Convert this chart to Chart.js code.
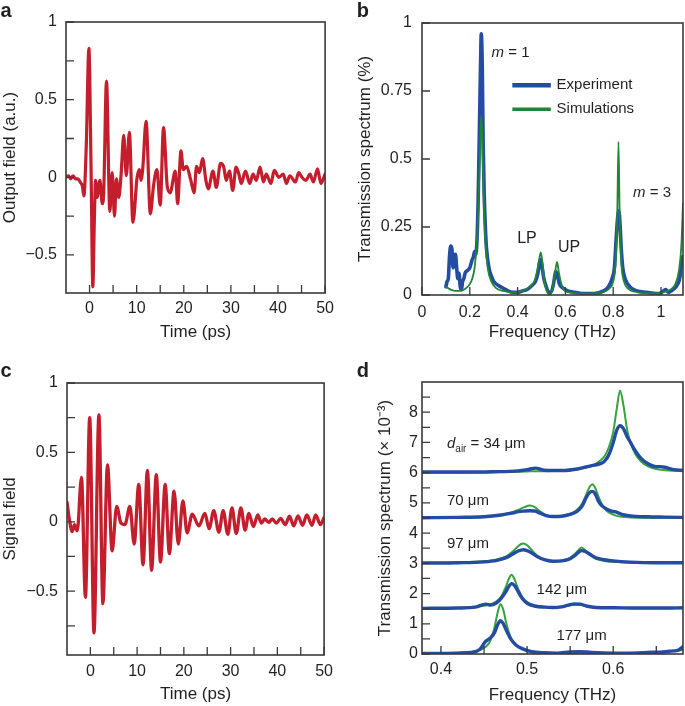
<!DOCTYPE html>
<html><head><meta charset="utf-8">
<script src="https://cdn.jsdelivr.net/npm/chart.js@4.4.1/dist/chart.umd.min.js"></script>
<style>
html,body{margin:0;padding:0;background:#fff;}
body{width:685px;height:706px;position:relative;overflow:hidden;}
canvas{position:absolute;}
</style></head><body>
<canvas id="ca" style="left:0;top:0" width="340" height="345"></canvas>
<canvas id="cb" style="left:340px;top:0" width="345" height="345"></canvas>
<canvas id="cc" style="left:0;top:340px" width="340" height="366"></canvas>
<canvas id="cd" style="left:340px;top:340px" width="345" height="366"></canvas>
<script>
// ---------- Panel a: output field vs time ----------
const timeA = [-5,-4.5,-4,-3.5,-3,-2.5,-2,-1.5,-1.2,-0.7,-0.14,0.3,0.7,1.0,1.27,1.6,2.2,2.7,3.0,3.6,4.3,4.8,5.3,5.7,6.2,6.7,7.25,7.8,8.45,9.2,10.1,10.6,10.9,11.3,12.0,12.9,13.6,14.3,15.0,15.7,16.5,17.1,18.2,18.7,19.4,19.9,20.6,21.5,22.2,22.7,23.3,24.0,24.7,25.2,26.2,26.9,27.8,28.5,29.0,29.7,30.4,31.1,31.7,32.2,33.1,34.0,34.7,35.4,36.2,36.9,37.5,38.5,39.2,40.2,41.1,41.8,42.5,43.7,44.4,45.1,45.9,46.8,47.5,48.4,49.1,50];
const fieldA = [0.0,0.01,-0.01,0.01,-0.01,-0.01,-0.03,-0.06,-0.12,0.2,0.83,0.1,-0.705,-0.3,-0.02,-0.13,-0.02,-0.17,-0.1,0.62,-0.22,0.03,-0.25,-0.01,-0.13,0.02,0.27,0.01,0.29,-0.29,0.0,0.05,-0.02,0.06,0.36,-0.235,-0.05,0.05,-0.18,0.32,-0.06,-0.1,0.04,-0.17,0.17,0.05,0.07,-0.02,-0.1,0.07,0.03,0.12,-0.02,-0.075,0.04,-0.065,0.09,0.065,-0.02,0.04,-0.085,0.065,0.02,-0.04,0.04,-0.04,0.02,-0.02,0.065,-0.03,0.02,-0.04,0.045,0.0,0.02,-0.04,0.01,-0.03,0.03,0.0,-0.02,0.02,-0.03,0.055,-0.04,0.02];
const timeTicks = [0,5,10,15,20,25,30,35,40,45,50];
const timeTickLabels = ['0','','10','','20','','30','','40','','50'];
const fieldTicksA = [-0.5,-0.25,0,0.25,0.5,0.75,1];
const fieldTickLabelsA = ['\u22120.5','','0','','0.5','','1'];

// ---------- Panel c: signal field vs time ----------
const timeC = [-5,-4.5,-3.9,-3.4,-2.8,-1.9,-1.06,-0.14,0.77,1.83,2.68,3.66,4.65,5.63,6.55,7.4,8.45,9.37,10.35,11.27,12.2,13.1,14.1,15.0,16.0,16.9,17.9,18.8,19.8,20.7,21.8,23.2,24.5,25.4,26.4,27.5,28.4,29.4,30.3,31.2,32.2,33.1,33.9,34.9,35.8,36.6,37.3,38.2,38.9,39.8,40.7,41.7,42.6,43.5,44.4,45.4,46.3,47.4,48.2,49.2,50];
const fieldC = [0.14,0.02,-0.07,-0.02,-0.065,0.32,-0.545,0.75,-0.80,0.77,-0.59,0.41,-0.21,0.11,-0.01,-0.02,0.11,-0.16,0.27,-0.31,0.37,-0.35,0.34,-0.29,0.27,-0.23,0.22,-0.16,0.15,-0.08,0.055,-0.03,0.06,-0.05,0.08,-0.075,0.08,-0.09,0.1,-0.085,0.1,-0.06,0.06,-0.035,0.05,-0.01,0.02,-0.005,0.02,-0.01,0.025,-0.02,0.04,-0.03,0.043,-0.025,0.05,-0.025,0.05,-0.02,0.03];
const fieldTicksC = [-0.75,-0.5,-0.25,0,0.25,0.5,0.75,1];
const fieldTickLabelsC = ['','\u22120.5','','0','','0.5','','1'];

// ---------- Panel b: transmission spectrum ----------
const freqExpB = [0.1,0.105,0.11,0.115,0.12,0.125,0.13,0.135,0.14,0.145,0.15,0.155,0.16,0.165,0.17,0.175,0.18,0.19,0.2,0.21,0.215,0.22,0.225,0.23,0.235,0.24,0.245,0.248,0.252,0.256,0.26,0.265,0.27,0.28,0.29,0.3,0.32,0.34,0.36,0.38,0.4,0.42,0.44,0.46,0.475,0.485,0.492,0.497,0.503,0.51,0.52,0.53,0.54,0.55,0.56,0.567,0.575,0.59,0.61,0.64,0.68,0.72,0.76,0.78,0.795,0.805,0.812,0.818,0.823,0.828,0.833,0.84,0.85,0.87,0.9,0.94,0.98,1.0,1.02,1.03,1.05,1.07,1.08,1.085,1.09];
const transExpB = [0.03,0.05,0.06,0.14,0.18,0.17,0.10,0.14,0.15,0.10,0.06,0.08,0.03,0.02,0.05,0.06,0.08,0.09,0.10,0.13,0.14,0.16,0.15,0.20,0.35,0.60,0.85,0.96,0.85,0.55,0.38,0.25,0.17,0.10,0.07,0.05,0.035,0.025,0.015,0.01,0.01,0.015,0.02,0.035,0.05,0.08,0.12,0.13,0.10,0.06,0.03,0.01,0.01,0.04,0.086,0.07,0.04,0.025,0.015,0.01,0.005,0.005,0.015,0.03,0.06,0.10,0.20,0.28,0.31,0.27,0.18,0.10,0.06,0.03,0.015,0.01,0.005,0.008,0.02,0.01,0.02,0.04,0.07,0.12,0.14];
const freqSimB = [0.1,0.12,0.14,0.16,0.18,0.2,0.21,0.22,0.23,0.237,0.243,0.248,0.253,0.258,0.265,0.275,0.29,0.31,0.34,0.38,0.42,0.45,0.47,0.482,0.49,0.497,0.504,0.512,0.522,0.535,0.545,0.555,0.565,0.573,0.585,0.6,0.63,0.67,0.72,0.76,0.785,0.8,0.81,0.817,0.822,0.827,0.834,0.845,0.86,0.89,0.94,1.0,1.04,1.06,1.075,1.085,1.092];
const transSimB = [0.03,0.02,0.015,0.015,0.022,0.04,0.06,0.10,0.2,0.35,0.55,0.66,0.56,0.36,0.2,0.1,0.05,0.025,0.015,0.01,0.015,0.03,0.05,0.09,0.13,0.157,0.12,0.05,0.015,0.0,0.02,0.07,0.122,0.08,0.035,0.015,0.008,0.005,0.006,0.012,0.025,0.05,0.12,0.3,0.563,0.3,0.12,0.05,0.025,0.012,0.006,0.008,0.02,0.04,0.09,0.18,0.337];
const freqTicksB = [0,0.2,0.4,0.6,0.8,1];
const freqTickLabelsB = ['0','0.2','0.4','0.6','0.8','1'];
const transTicksB = [0,0.25,0.5,0.75,1];
const transTickLabelsB = ['0','0.25','0.5','0.75','1'];
const seriesNamesB = ['Experiment','Simulations'];

// ---------- Panel d: spectra for several air gaps (offset curves) ----------
const gapLabelsD = ['34 \u03bcm','70 \u03bcm','97 \u03bcm','142 \u03bcm','177 \u03bcm'];
const freqD34 = [0.378,0.42,0.46,0.49,0.5,0.51,0.52,0.54,0.56,0.57,0.578,0.585,0.59,0.595,0.6,0.604,0.608,0.612,0.616,0.62,0.625,0.632,0.64,0.65,0.655,0.66,0.67,0.681];
const simD34 = [6.0,6.0,6.01,6.03,6.04,6.05,6.05,6.07,6.12,6.18,6.26,6.4,6.55,6.85,7.35,8.1,8.72,8.2,7.45,7.0,6.65,6.38,6.22,6.12,6.1,6.08,6.06,6.05];
const expD34 = [6.02,6.02,6.03,6.06,6.1,6.15,6.08,6.07,6.13,6.2,6.25,6.3,6.38,6.6,7.0,7.4,7.55,7.45,7.2,7.0,6.75,6.48,6.3,6.2,6.2,6.18,6.1,6.08];
const freqD70 = [0.378,0.42,0.45,0.47,0.482,0.49,0.497,0.503,0.509,0.515,0.522,0.53,0.54,0.55,0.558,0.564,0.569,0.573,0.576,0.579,0.583,0.587,0.592,0.598,0.603,0.61,0.62,0.64,0.66,0.681];
const simD70 = [4.51,4.52,4.55,4.6,4.68,4.77,4.86,4.91,4.86,4.72,4.6,4.55,4.57,4.64,4.77,4.98,5.3,5.55,5.62,5.5,5.2,4.95,4.75,4.64,4.58,4.54,4.52,4.51,4.51,4.51];
const expD70 = [4.51,4.52,4.54,4.6,4.66,4.71,4.73,4.74,4.73,4.66,4.58,4.55,4.56,4.62,4.72,4.9,5.2,5.35,5.38,5.3,5.05,4.9,4.8,4.73,4.7,4.62,4.57,4.54,4.53,4.52];
const freqD97 = [0.378,0.42,0.45,0.465,0.475,0.483,0.489,0.493,0.496,0.5,0.505,0.512,0.52,0.53,0.54,0.548,0.555,0.56,0.563,0.567,0.573,0.58,0.59,0.6,0.62,0.65,0.681];
const simD97 = [3.01,3.03,3.07,3.13,3.22,3.38,3.55,3.64,3.66,3.6,3.45,3.25,3.12,3.06,3.08,3.15,3.3,3.45,3.52,3.45,3.28,3.15,3.08,3.05,3.02,3.01,3.01];
const expD97 = [3.01,3.02,3.05,3.1,3.18,3.3,3.4,3.44,3.45,3.42,3.35,3.22,3.12,3.07,3.08,3.13,3.25,3.37,3.42,3.4,3.3,3.18,3.12,3.08,3.04,3.02,3.02];
const freqD142 = [0.378,0.42,0.44,0.452,0.458,0.465,0.47,0.475,0.479,0.482,0.485,0.489,0.494,0.5,0.51,0.52,0.53,0.54,0.548,0.555,0.562,0.57,0.58,0.6,0.63,0.66,0.681];
const simD142 = [1.51,1.53,1.56,1.6,1.65,1.75,1.9,2.2,2.5,2.62,2.5,2.2,1.9,1.72,1.6,1.56,1.55,1.56,1.6,1.63,1.62,1.57,1.54,1.52,1.51,1.51,1.51];
const expD142 = [1.51,1.52,1.55,1.65,1.62,1.7,1.85,2.05,2.25,2.33,2.28,2.1,1.85,1.68,1.58,1.55,1.54,1.56,1.62,1.66,1.65,1.58,1.54,1.53,1.52,1.52,1.53];
const freqD177 = [0.378,0.40,0.42,0.435,0.445,0.452,0.457,0.462,0.466,0.469,0.472,0.476,0.481,0.487,0.495,0.505,0.52,0.535,0.55,0.56,0.575,0.6,0.625,0.645,0.655,0.665,0.675,0.681];
const simD177 = [0.01,0.02,0.04,0.07,0.13,0.24,0.42,0.85,1.4,1.65,1.5,1.0,0.55,0.3,0.16,0.08,0.04,0.03,0.03,0.03,0.03,0.03,0.04,0.05,0.07,0.09,0.12,0.13];
const expD177 = [0.02,0.02,0.03,0.05,0.15,0.42,0.52,0.7,0.98,1.1,1.02,0.78,0.5,0.3,0.17,0.08,0.04,0.03,0.07,0.08,0.05,0.03,0.03,0.06,0.06,0.09,0.12,0.24];
const freqTicksD = [0.4,0.45,0.5,0.55,0.6,0.65];
const freqTickLabelsD = ['0.4','','0.5','','0.6',''];
const transTicksD = [0,0.5,1,1.5,2,2.5,3,3.5,4,4.5,5,5.5,6,6.5,7,7.5,8,8.5];
const transTickLabelsD = ['0','','1','','2','','3','','4','','5','','6','','7','','8',''];

// ---------- styling / helpers ----------
const FONT = '"Liberation Sans", Arial, Helvetica, sans-serif';
const TXT = '#231f20';
const RED = '#c41e2d', BLUE = '#234ca2', GREEN_B = '#1f8537', GREEN_D = '#36a23d';

function pts(xs, ys){ return xs.map((x,i)=>({x:x, y:ys[i]})); }
function line(data, color, width){
  return {data, borderColor: color, borderWidth: width, pointRadius: 0, fill: false,
          cubicInterpolationMode: 'monotone', borderJoinStyle: 'round', borderCapStyle: 'round'};
}

function drawParts(ctx, px, py, parts, size, align){
  const fonts = parts.map(p => (p.it ? 'italic ' : '') + (p.sub ? Math.round(size*0.68) : size) + 'px ' + FONT);
  let w = 0;
  const ws = parts.map((p,i)=>{ ctx.font = fonts[i]; const m = ctx.measureText(p.t).width; w += m; return m; });
  let x = align === 'center' ? px - w/2 : px;
  ctx.textAlign = 'left'; ctx.textBaseline = 'middle'; ctx.fillStyle = TXT;
  parts.forEach((p,i)=>{ ctx.font = fonts[i]; ctx.fillText(p.t, x, py + (p.sub ? size*0.32 : 0)); x += ws[i]; });
}

function decor(letter, notes){
  return {
    id: 'decor',
    afterDatasetsDraw(chart){
      const {ctx, chartArea: a, scales: {x, y}} = chart;
      ctx.save();
      ctx.strokeStyle = '#3a3a3a';
      ctx.lineWidth = 1.3;
      ctx.beginPath();
      x.ticks.forEach(t => { const p = x.getPixelForValue(t.value); ctx.moveTo(p, a.bottom); ctx.lineTo(p, a.bottom - 8); });
      y.ticks.forEach(t => { const p = y.getPixelForValue(t.value); ctx.moveTo(a.left, p); ctx.lineTo(a.left + 8, p); });
      ctx.stroke();
      ctx.lineWidth = 1.6;
      ctx.strokeRect(a.left, a.top, a.right - a.left, a.bottom - a.top);
      // notes
      (notes || []).forEach(n => {
        if (n.legend) {
          const yy = y.getPixelForValue(n.y);
          ctx.strokeStyle = n.color; ctx.lineWidth = n.width; ctx.lineCap = 'butt';
          ctx.beginPath(); ctx.moveTo(x.getPixelForValue(n.x0), yy); ctx.lineTo(x.getPixelForValue(n.x1), yy); ctx.stroke();
          drawParts(ctx, x.getPixelForValue(n.x), yy, [{t: n.label}], n.size, 'left');
        } else {
          drawParts(ctx, x.getPixelForValue(n.x), y.getPixelForValue(n.y), n.parts, n.size, n.align || 'left');
        }
      });
      // panel letter
      ctx.font = 'bold 20px ' + FONT; ctx.fillStyle = TXT; ctx.textAlign = 'left'; ctx.textBaseline = 'alphabetic';
      ctx.fillText(letter.t, letter.x, letter.y);
      ctx.restore();
    }
  };
}

function makeChart(id, c){
  const tickFont = {family: FONT, size: 16};
  const titleFont = {family: FONT, size: 17};
  return new Chart(document.getElementById(id), {
    type: 'line',
    data: {datasets: c.datasets},
    options: {
      responsive: false, animation: false, devicePixelRatio: 1, events: [],
      layout: {padding: c.pad},
      plugins: {legend: {display: false}, tooltip: {enabled: false}},
      scales: {
        x: {
          type: 'linear', min: c.xMin, max: c.xMax,
          grid: {display: false, drawTicks: false}, border: {display: false},
          afterBuildTicks: s => { s.ticks = c.xTicks.map(v => ({value: v})); },
          afterFit: s => { s.height = c.xH; },
          ticks: {autoSkip: false, maxRotation: 0, minRotation: 0, padding: c.xTickPad, color: TXT, font: tickFont,
                  callback: (v, i) => c.xLabels[i]},
          title: {display: true, text: c.xTitle, color: TXT, font: titleFont, padding: {top: 0, bottom: c.xTitlePad}}
        },
        y: {
          type: 'linear', min: c.yMin, max: c.yMax,
          grid: {display: false, drawTicks: false}, border: {display: false},
          afterBuildTicks: s => { s.ticks = c.yTicks.map(v => ({value: v})); },
          afterFit: s => { s.width = c.yW; },
          ticks: {autoSkip: false, padding: c.yTickPad, color: TXT, font: tickFont,
                  callback: (v, i) => c.yLabels[i]},
          title: {display: true, text: c.yTitle, color: TXT, font: titleFont, padding: {top: c.yTitlePad, bottom: 0}}
        }
      }
    },
    plugins: [decor(c.letter, c.notes)]
  });
}

// Panel a
makeChart('ca', {
  datasets: [line(pts(timeA, fieldA), RED, 3.2)],
  xMin: -5, xMax: 50, yMin: -0.745, yMax: 1,
  xTicks: timeTicks, xLabels: timeTickLabels, yTicks: fieldTicksA, yLabels: fieldTickLabelsA,
  xTitle: 'Time (ps)', yTitle: 'Output field (a.u.)',
  pad: {left: 0, top: 22, right: 13, bottom: 0}, yW: 66, xH: 52,
  xTickPad: 6, yTickPad: 9, xTitlePad: 2, yTitlePad: 0,
  letter: {t: 'a', x: 0.5, y: 16.7}
});

// Panel b
makeChart('cb', {
  datasets: [line(pts(freqSimB, transSimB), GREEN_B, 1.8), line(pts(freqExpB, transExpB), BLUE, 3.6)],
  xMin: 0, xMax: 1.092, yMin: 0, yMax: 1,
  xTicks: freqTicksB, xLabels: freqTickLabelsB, yTicks: transTicksB, yLabels: transTickLabelsB,
  xTitle: 'Frequency (THz)', yTitle: 'Transmission spectrum (%)',
  pad: {left: 0, top: 23, right: 2, bottom: 0}, yW: 82, xH: 50,
  xTickPad: 8, yTickPad: 10, xTitlePad: 2, yTitlePad: 15,
  letter: {t: 'b', x: 16.7, y: 16.7},
  notes: [
    {x: 0.291, y: 0.889, size: 15, parts: [{t: 'm', it: true}, {t: ' = 1'}]},
    {x: 0.883, y: 0.376, size: 15, parts: [{t: 'm', it: true}, {t: ' = 3'}]},
    {x: 0.439, y: 0.209, size: 16, align: 'center', parts: [{t: 'LP'}]},
    {x: 0.615, y: 0.173, size: 16, align: 'center', parts: [{t: 'UP'}]},
    {legend: true, x0: 0.378, x1: 0.539, x: 0.563, y: 0.771, color: BLUE, width: 4.5, size: 15, label: seriesNamesB[0]},
    {legend: true, x0: 0.378, x1: 0.539, x: 0.563, y: 0.683, color: GREEN_B, width: 3.5, size: 15, label: seriesNamesB[1]}
  ]
});

// Panel c
makeChart('cc', {
  datasets: [line(pts(timeC, fieldC), RED, 3.3)],
  xMin: -5, xMax: 50, yMin: -0.96, yMax: 1,
  xTicks: timeTicks, xLabels: timeTickLabels, yTicks: fieldTicksC, yLabels: fieldTickLabelsC,
  xTitle: 'Time (ps)', yTitle: 'Signal field',
  pad: {left: 0, top: 43, right: 12, bottom: 0}, yW: 67, xH: 51,
  xTickPad: 7, yTickPad: 9, xTitlePad: 1, yTitlePad: 0,
  letter: {t: 'c', x: 0.5, y: 36.7}
});

// Panel d
makeChart('cd', {
  datasets: [
    line(pts(freqD34, expD34), BLUE, 3.4), line(pts(freqD70, expD70), BLUE, 3.4), line(pts(freqD97, expD97), BLUE, 3.4),
    line(pts(freqD142, expD142), BLUE, 3.4), line(pts(freqD177, expD177), BLUE, 3.4),
    line(pts(freqD34, simD34), GREEN_D, 2), line(pts(freqD70, simD70), GREEN_D, 2), line(pts(freqD97, simD97), GREEN_D, 2),
    line(pts(freqD142, simD142), GREEN_D, 2), line(pts(freqD177, simD177), GREEN_D, 2)
  ],
  xMin: 0.378, xMax: 0.681, yMin: 0, yMax: 9,
  xTicks: freqTicksD, xLabels: freqTickLabelsD, yTicks: transTicksD, yLabels: transTickLabelsD,
  xTitle: 'Frequency (THz)', yTitle: 'Transmission spectrum (\u00d7 10\u207b\u00b3)',
  pad: {left: 0, top: 42, right: 2, bottom: 0}, yW: 82, xH: 52,
  xTickPad: 6, yTickPad: 4, xTitlePad: 0, yTitlePad: 35,
  letter: {t: 'd', x: 16.7, y: 36.7},
  notes: [
    {x: 0.407, y: 6.95, size: 15, parts: [{t: 'd', it: true}, {t: 'air', sub: true}, {t: ' = ' + gapLabelsD[0]}]},
    {x: 0.407, y: 5.07, size: 15, parts: [{t: gapLabelsD[1]}]},
    {x: 0.407, y: 3.64, size: 15, parts: [{t: gapLabelsD[2]}]},
    {x: 0.511, y: 2.12, size: 15, parts: [{t: gapLabelsD[3]}]},
    {x: 0.534, y: 0.6, size: 15, parts: [{t: gapLabelsD[4]}]}
  ]
});
</script>
</body></html>
